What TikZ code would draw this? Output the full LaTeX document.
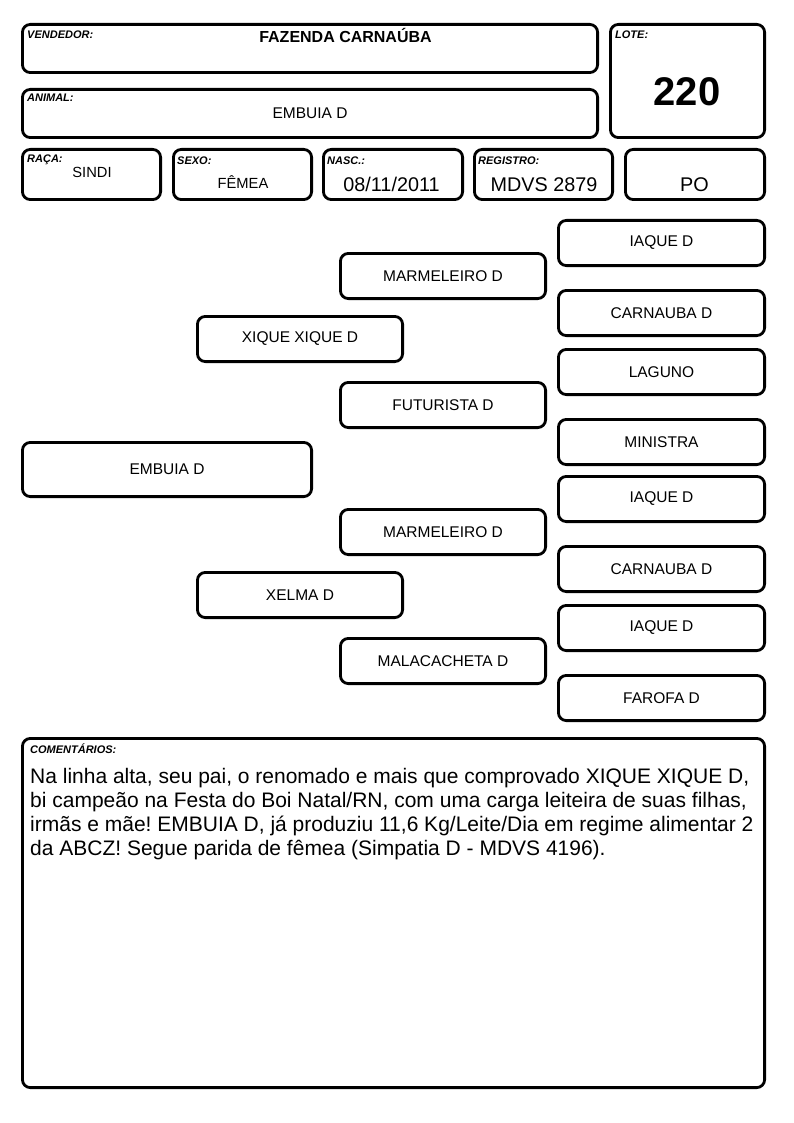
\documentclass[tikz,border=0pt]{standalone}
\usepackage{fontspec}
\setmainfont{Liberation Sans}
\frenchspacing
\newcommand\mkbox[6]{%
  \pgfmathsetmacro\mkW{#4-#2-2.8}\pgfmathsetmacro\mkH{#5-#3-2.8}%
  \node[box, minimum width=\mkW pt, minimum height=\mkH pt] (#1) at ({(#2+#4)/2},{(#3+#5)/2}) {#6};}
\begin{document}
\begin{tikzpicture}[x=1pt,y=-1pt,
  box/.style={draw, line width=2.8pt, rounded corners=8pt, inner sep=0pt, font=\fontsize{15.5}{17}\selectfont},
  lab/.style={font=\fontsize{11}{12}\selectfont\bfseries\itshape, anchor=base west, inner sep=0pt},
  val/.style={anchor=base, inner sep=0pt, font=\fontsize{14.7}{16}\selectfont},
  big/.style={anchor=base, inner sep=0pt, font=\fontsize{19.8}{21}\selectfont},
  com/.style={anchor=base west, inner sep=0pt, font=\fontsize{21}{24}\selectfont}]
\useasboundingbox (0,0) rectangle (794,1123);
% header
\mkbox{vend}{21}{23}{599}{74}{}
\mkbox{anim}{21}{88}{599}{139}{}
\mkbox{lote}{609}{23}{766}{139}{}
\mkbox{raca}{21}{148}{162}{201}{}
\mkbox{sexo}{172}{148}{313}{201}{}
\mkbox{nasc}{322}{148}{464}{201}{}
\mkbox{reg}{473}{148}{614}{201}{}
\mkbox{po}{624}{148}{766}{201}{}
\node[lab] (lvend) at (27,39) {VENDEDOR:};
\node[lab] (lanim) at (27,102) {ANIMAL:};
\node[lab] (llote) at (615,39) {LOTE:};
\node[lab] (lraca) at (27,163) {RAÇA:};
\node[lab] (lsexo) at (177,165) {SEXO:};
\node[lab] (lnasc) at (327,165) {NASC.:};
\node[lab] (lreg) at (478,165) {REGISTRO:};
\node[val, font=\fontsize{16}{18}\selectfont\bfseries] (tvend) at (345.5,43) {FAZENDA CARNAÚBA};
\node[val, font=\fontsize{15.5}{17}\selectfont] (tanim) at (310,119) {EMBUIA D};
\node[anchor=base, inner sep=0pt, font=\fontsize{40}{44}\selectfont\bfseries] (tlote) at (687,105.5) {220};
\node[val] (traca) at (92,178) {SINDI};
\node[val] (tsexo) at (243,189) {FÊMEA};
\node[big] (tnasc) at (391.5,192) {08/11/2011};
\node[big] (treg) at (544,192) {MDVS 2879};
\node[big] (tpo) at (694.5,192) {PO};
% pedigree
\mkbox{p0}{21}{441}{313}{498}{EMBUIA D}
\mkbox{p1}{196}{315}{404}{363}{XIQUE XIQUE D}
\mkbox{p2}{196}{571}{404}{619}{XELMA D}
\mkbox{p11}{339}{252}{547}{300}{MARMELEIRO D}
\mkbox{p12}{339}{381}{547}{429}{FUTURISTA D}
\mkbox{p21}{339}{508}{547}{556}{MARMELEIRO D}
\mkbox{p22}{339}{637}{547}{685}{MALACACHETA D}
\mkbox{p111}{557}{219}{766}{267}{IAQUE D}
\mkbox{p112}{557}{289}{766}{337}{CARNAUBA D}
\mkbox{p121}{557}{348}{766}{396}{LAGUNO}
\mkbox{p122}{557}{418}{766}{466}{MINISTRA}
\mkbox{p211}{557}{475}{766}{523}{IAQUE D}
\mkbox{p212}{557}{545}{766}{593}{CARNAUBA D}
\mkbox{p221}{557}{604}{766}{652}{IAQUE D}
\mkbox{p222}{557}{674}{766}{722}{FAROFA D}
% comments
\mkbox{coment}{21}{737}{766}{1089}{}
\node[lab] (lcom) at (30,753) {COMENTÁRIOS:};
\node[com] (c1) at (30,783) {Na linha alta, seu pai, o renomado e mais que comprovado XIQUE XIQUE D,};
\node[com] (c2) at (30,807) {bi campeão na Festa do Boi Natal/RN, com uma carga leiteira de suas filhas,};
\node[com] (c3) at (30,831) {irmãs e mãe! EMBUIA D, já produziu 11,6 Kg/Leite/Dia em regime alimentar 2};
\node[com] (c4) at (30,855) {da ABCZ! Segue parida de fêmea (Simpatia D - MDVS 4196).};
\end{tikzpicture}
\end{document}
